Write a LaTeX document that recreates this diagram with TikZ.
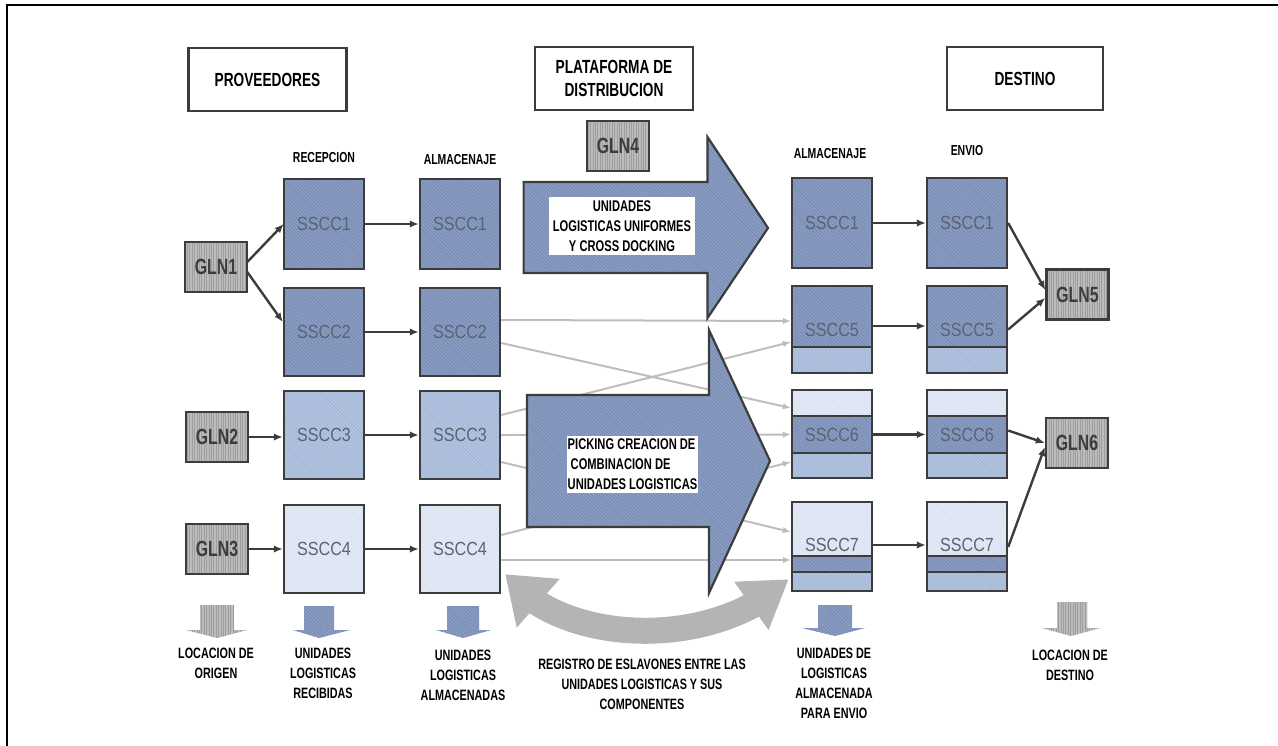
\documentclass[tikz,border=0pt]{standalone}
\usepackage{fontspec}
\setmainfont{Liberation Sans}
\newfontfamily\lblfont[FakeStretch=0.72]{Liberation Sans}
\newfontfamily\codefont[FakeStretch=0.85]{Liberation Sans}
\usetikzlibrary{arrows.meta,patterns.meta,bending}
\pgfdeclarelayer{background}
\pgfsetlayers{background,main}

\definecolor{edge}{HTML}{3C3C3C}
\definecolor{dk}{HTML}{8A9CC2}
\definecolor{dkh}{HTML}{7185AE}
\definecolor{md}{HTML}{B3C4E1}
\definecolor{mdh}{HTML}{9BB0D4}
\definecolor{lt}{HTML}{E5EBF6}
\definecolor{lth}{HTML}{D2DCEE}
\definecolor{gl}{HTML}{BCBCBC}
\definecolor{glh}{HTML}{9E9E9E}
\definecolor{linkc}{HTML}{BDBDBD}
\definecolor{codetxt}{HTML}{5B6273}
\definecolor{bandc}{HTML}{B4B4B4}

\begin{document}
\begin{tikzpicture}[x=1pt,y=-1pt,
  edgeline/.style={draw=edge,line width=2.4pt},
  dkb/.style={preaction={fill=dk},pattern={Lines[angle=-45,distance=2.6pt,line width=0.55pt]},pattern color=dkh},
  mdb/.style={preaction={fill=md},pattern={Lines[angle=-45,distance=2.6pt,line width=0.55pt]},pattern color=mdh},
  ltb/.style={preaction={fill=lt},pattern={Lines[angle=-45,distance=2.6pt,line width=0.55pt]},pattern color=lth},
  gyb/.style={preaction={fill=gl},pattern={Lines[angle=90,distance=2.4pt,line width=0.6pt]},pattern color=glh},
  hdr/.style={edgeline,fill=white,minimum width=158pt,minimum height=63pt,inner sep=0pt,align=center,
    font=\lblfont\bfseries\fontsize{19}{23}\selectfont},
  gln/.style={edgeline,gyb,minimum width=62pt,minimum height=50pt,inner sep=0pt,text=edge,
    font=\lblfont\bfseries\fontsize{22}{24}\selectfont},
  code/.style={edgeline,minimum width=80pt,minimum height=88pt,inner sep=0pt,text=codetxt,
    font=\codefont\fontsize{19}{22}\selectfont},
  codetext/.style={inner sep=0pt,text=codetxt,font=\codefont\fontsize{19}{22}\selectfont},
  col/.style={inner sep=0pt,font=\lblfont\bfseries\fontsize{14.5}{17}\selectfont},
  note/.style={fill=white,inner sep=0pt,align=center,font=\lblfont\bfseries\fontsize{15.5}{20}\selectfont},
  foot/.style={inner sep=0pt,align=center,font=\lblfont\bfseries\fontsize{15}{20}\selectfont},
  conn/.style={draw=edge,line width=2.4pt,-{Latex[length=9pt,width=7.5pt]}},
  lnk/.style={draw=linkc,line width=2pt,-{Latex[length=8pt,width=6.5pt]}},
  bigarrow/.style={dkb,draw=edge,line width=2.2pt,line join=miter},
  band/.style={draw=bandc,line width=26pt}
]
\useasboundingbox (0,0) rectangle (1278,745);

% outer frame
\draw[line width=2.4pt] (7,760) -- (7,5) -- (1290,5);

% section headers
\node[hdr] (hp) at (267.5,79.5) {PROVEEDORES};
\node[hdr] (hd) at (614,78.5) {PLATAFORMA DE\\DISTRIBUCION};
\node[hdr,minimum width=156pt] (hs) at (1025,78.5) {DESTINO};

% column titles
\node[col] (lr) at (324,158) {RECEPCION};
\node[col] (la) at (460,160) {ALMACENAJE};
\node[col] (lar) at (830,154) {ALMACENAJE};
\node[col] (le) at (967,151) {ENVIO};

% locations
\node[gln] (g1) at (216,267) {GLN1};
\node[gln] (g2) at (217,437) {GLN2};
\node[gln] (g3) at (217,549) {GLN3};
\node[gln] (g4) at (618,146) {GLN4};
\node[gln] (g5) at (1077.5,294.5) {GLN5};
\node[gln] (g6) at (1077,443) {GLN6};

% reception
\node[code,dkb,minimum height=90pt] (r1) at (324,224) {SSCC1};
\node[code,dkb] (r2) at (324,332) {SSCC2};
\node[code,mdb] (r3) at (324,435) {SSCC3};
\node[code,ltb] (r4) at (324,549) {SSCC4};
% storage
\node[code,dkb,minimum height=90pt] (a1) at (460,224) {SSCC1};
\node[code,dkb] (a2) at (460,332) {SSCC2};
\node[code,mdb] (a3) at (460,435) {SSCC3};
\node[code,ltb] (a4) at (460,549) {SSCC4};

% storage for dispatch
\node[code,dkb,minimum height=90pt] (s1) at (832,223) {SSCC1};
\node[code,dkb,minimum height=61pt] (s5u) at (832,316.5) {};
\node[code,mdb,minimum height=26pt] (s5l) at (832,360) {};
\node[code,ltb,minimum height=26pt] (s6t) at (832,403) {};
\node[code,dkb,minimum height=37pt] (s6m) at (832,434.5) {SSCC6};
\node[code,mdb,minimum height=25pt] (s6b) at (832,465.5) {};
\node[code,ltb,minimum height=54pt] (s7t) at (832,529) {};
\node[code,dkb,minimum height=16pt] (s7m) at (832,564) {};
\node[code,mdb,minimum height=19pt] (s7b) at (832,581.5) {};
\node[codetext] (s5x) at (832,330) {SSCC5};
\node[codetext] (s7x) at (832,545) {SSCC7};

% dispatch
\node[code,dkb,minimum height=90pt] (e1) at (967,223) {SSCC1};
\node[code,dkb,minimum height=61pt] (e5u) at (967,316.5) {};
\node[code,mdb,minimum height=26pt] (e5l) at (967,360) {};
\node[code,ltb,minimum height=26pt] (e6t) at (967,403) {};
\node[code,dkb,minimum height=37pt] (e6m) at (967,434.5) {SSCC6};
\node[code,mdb,minimum height=25pt] (e6b) at (967,465.5) {};
\node[code,ltb,minimum height=54pt] (e7t) at (967,529) {};
\node[code,dkb,minimum height=16pt] (e7m) at (967,564) {};
\node[code,mdb,minimum height=19pt] (e7b) at (967,581.5) {};
\node[codetext] (e5x) at (967,330) {SSCC5};
\node[codetext] (e7x) at (967,545) {SSCC7};

% links between stored units and the composed units
\begin{pgfonlayer}{background}
\draw[lnk] ([yshift=12pt]a2.east) -- ([yshift=-4.5pt]s5u.west);
\draw[lnk] ([yshift=-11pt]a2.east) -- ([yshift=-5pt]s6t.west);
\draw[lnk] ([yshift=20pt]a3.east) -- ([yshift=-25.5pt]s5u.west);
\draw[lnk] (a3.east) -- (s6m.west);
\draw[lnk] ([yshift=-27pt]a3.east) -- ([yshift=-3pt]s7t.west);
\draw[lnk] ([yshift=14pt]a4.east) -- ([yshift=3.5pt]s6b.west);
\draw[lnk] ([yshift=-11pt]a4.east) -- ([yshift=4pt]s7m.west);
\end{pgfonlayer}

% platform flows
\draw[bigarrow] (523.6,182) -- (707.5,182) -- (707.5,137) -- (768,228) -- (707.5,318)
  -- (707.5,273) -- (523.6,273) -- cycle;
\draw[bigarrow] (527,395) -- (709,395) -- (709,330) -- (770,461) -- (709,593)
  -- (709,527) -- (527,527) -- cycle;
\node[note,minimum width=146pt,minimum height=58pt] (n1) at (622,226)
  {UNIDADES\\LOGISTICAS UNIFORMES\\Y CROSS DOCKING};
\node[note,minimum width=131pt,minimum height=57pt,align=left] (n2) at (632.5,464.5)
  {PICKING CREACION DE\\\hspace{3pt}COMBINACION DE\\UNIDADES LOGISTICAS};

% supplier side flows
\draw[conn] ([yshift=5pt]g1.east) -- (r1.west);
\draw[conn] ([yshift=-5pt]g1.east) -- ([yshift=10pt]r2.west);
\draw[conn] (g2.east) -- (g2.east -| r3.west);
\draw[conn] (g3.east) -- (g3.east -| r4.west);
\draw[conn] (r1) -- (a1);
\draw[conn] (r2) -- (a2);
\draw[conn] (r3) -- (a3);
\draw[conn] (r4) -- (a4);

% destination side flows
\draw[conn] (s1) -- (e1);
\draw[conn] ([yshift=-9.5pt]s5u.east) -- ([yshift=-9.5pt]e5u.west);
\draw[conn] (s6m) -- (e6m);
\draw[conn] ([yshift=-16pt]s7t.east) -- ([yshift=-16pt]e7t.west);
\draw[conn] (e1.east) -- ([yshift=4.5pt]g5.west);
\draw[conn] ([yshift=-13pt]e5u.east) -- ([yshift=-3.5pt]g5.west);
\draw[conn] ([yshift=4pt]e6m.east) -- (g6.west);
\draw[conn] ([yshift=-18pt]e7t.east) -- ([yshift=-4pt]g6.west);

% registry of links (two-way)
\coordinate (bl) at ([xshift=4pt,yshift=20pt]a4.south east);
\coordinate (br) at ([xshift=-2pt,yshift=13pt]s7b.south west);
\draw[band,{Triangle[length=44pt,width=62pt]}-{Triangle[length=46pt,width=56pt]}]
  (bl) .. controls +(55,72) and +(-75,72) .. (br);

% downward markers
\path[gyb] (200,605) -- (234,605) -- (234,630) -- (247,630) -- (217,638) -- (186,630) -- (200,630) -- cycle;
\path[dkb] (304,606) -- (334,606) -- (334,630) -- (350,630) -- (319,638) -- (293,630) -- (304,630) -- cycle;
\path[dkb] (447,606) -- (479,606) -- (479,630) -- (491,630) -- (463,638) -- (436,630) -- (447,630) -- cycle;
\path[dkb] (818,605) -- (852,605) -- (852,628) -- (865,628) -- (835,636) -- (802,628) -- (818,628) -- cycle;
\path[gyb] (1057,602) -- (1087,602) -- (1087,628) -- (1100,628) -- (1071,636) -- (1042,628) -- (1057,628) -- cycle;

% captions
\node[foot] (f1) at (216,663) {LOCACION DE\\ORIGEN};
\node[foot] (f2) at (323,673) {UNIDADES\\LOGISTICAS\\RECIBIDAS};
\node[foot] (f3) at (463,675) {UNIDADES\\LOGISTICAS\\ALMACENADAS};
\node[foot] (f4) at (642,684) {REGISTRO DE ESLAVONES ENTRE LAS\\UNIDADES LOGISTICAS Y SUS\\COMPONENTES};
\node[foot] (f5) at (834,683) {UNIDADES DE\\LOGISTICAS\\ALMACENADA\\PARA ENVIO};
\node[foot] (f6) at (1070,665) {LOCACION DE\\DESTINO};
\end{tikzpicture}
\end{document}
